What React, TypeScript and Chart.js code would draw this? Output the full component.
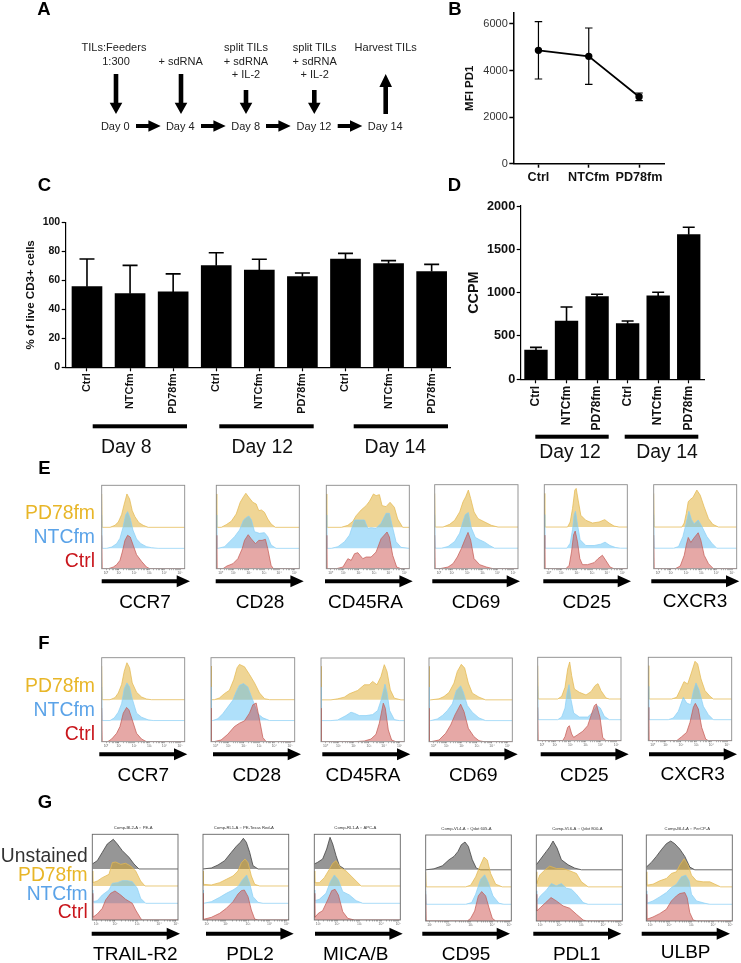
import React, { useEffect, useRef } from "react";
import { Chart, registerables } from "chart.js";
Chart.register(...registerables);

// ---------- Panel B ----------
const bGroups = ["Ctrl", "NTCfm", "PD78fm"];
const bMean = [4869, 4611, 2878];
const bHigh = [6100, 5828, 3036];
const bLow = [3637, 3408, 2706];
const bTicks = [0, 2000, 4000, 6000];
// ---------- Panel C ----------
const cGroups = ["Ctrl", "NTCfm", "PD78fm", "Ctrl", "NTCfm", "PD78fm", "Ctrl", "NTCfm", "PD78fm"];
const cMean = [55.6, 50.8, 52, 70.1, 67.1, 62.5, 74.7, 71.5, 66];
const cHigh = [74.7, 70.3, 64.4, 79, 74.5, 65, 78.6, 73.6, 71];
// ---------- Panel D ----------
const dGroups = ["Ctrl", "NTCfm", "PD78fm", "Ctrl", "NTCfm", "PD78fm"];
const dMean = [338, 673, 954, 642, 962, 1669];
const dHigh = [369, 835, 981, 673, 1004, 1754];

// ---------- Histograms: [fluorescence position, count above the lane baseline] ----------
const E_CCR7_PD78 = [[25,0],[40,6],[50,16],[60,38],[68,70],[76,100],[84,85],[92,50],[100,32],[112,14],[125,6],[140,0]];
const E_CCR7_NTC = [[15,0],[30,4],[45,14],[55,30],[64,62],[72,100],[78,110],[86,90],[94,55],[105,28],[118,14],[135,5],[150,2],[170,0]];
const E_CCR7_CTRL = [[20,0],[35,5],[45,12],[55,25],[62,50],[70,85],[78,100],[86,95],[95,70],[105,42],[120,22],[135,5],[145,0]];
const E_CD28_PD78 = [[15,0],[30,8],[45,18],[60,40],[72,75],[82,92],[89,102],[98,90],[110,75],[120,70],[128,50],[136,52],[145,45],[155,25],[165,10],[178,0]];
const E_CD28_NTC = [[5,0],[25,5],[40,20],[55,35],[70,55],[82,85],[90,92],[98,97],[106,85],[115,50],[130,45],[145,47],[155,35],[165,10],[180,0]];
const E_CD28_CTRL = [[20,0],[32,8],[50,15],[65,30],[78,60],[85,85],[96,102],[105,90],[118,75],[128,85],[138,85],[148,88],[155,60],[165,10],[172,0]];
const E_CD45RA_PD78 = [[45,0],[65,6],[80,18],[90,35],[105,52],[120,65],[130,78],[142,100],[150,95],[160,98],[168,65],[180,62],[192,75],[205,60],[215,25],[230,0]];
const E_CD45RA_NTC = [[15,0],[35,5],[55,20],[70,40],[85,85],[100,85],[115,85],[125,60],[135,62],[150,60],[165,75],[180,105],[190,105],[198,70],[210,20],[225,3],[250,0]];
const E_CD45RA_CTRL = [[30,0],[50,5],[65,30],[75,25],[85,45],[95,48],[110,30],[120,35],[135,35],[150,50],[165,90],[183,110],[190,95],[200,40],[212,5],[225,0]];
const E_CD69_PD78 = [[25,0],[45,8],[60,20],[75,45],[85,75],[93,90],[101,110],[108,85],[118,45],[130,25],[150,15],[170,5],[190,0]];
const E_CD69_NTC = [[20,0],[40,5],[60,20],[75,45],[85,80],[92,100],[101,106],[110,60],[122,32],[135,25],[150,18],[165,8],[180,0]];
const E_CD69_CTRL = [[15,0],[40,5],[55,15],[68,35],[80,60],[90,85],[100,108],[108,85],[118,30],[135,12],[155,5],[175,0]];
const E_CD25_PD78 = [[70,0],[78,15],[85,55],[92,110],[96,115],[102,80],[110,35],[125,20],[145,12],[165,15],[182,22],[195,12],[210,3],[225,0]];
const E_CD25_NTC = [[68,0],[78,15],[85,55],[90,100],[94,110],[100,70],[108,25],[125,8],[150,8],[170,12],[183,18],[198,8],[215,2],[230,0]];
const E_CD25_CTRL = [[65,0],[75,10],[82,50],[88,100],[93,112],[100,80],[107,30],[115,12],[130,12],[150,18],[162,30],[175,40],[185,25],[198,5],[210,0]];
const E_CXCR3_PD78 = [[85,0],[92,12],[98,40],[104,75],[110,82],[118,88],[130,110],[140,95],[152,60],[165,25],[178,8],[195,0]];
const E_CXCR3_NTC = [[60,0],[75,5],[88,35],[98,75],[106,110],[114,85],[122,72],[134,84],[145,65],[160,35],[175,15],[190,0]];
const E_CXCR3_CTRL = [[65,0],[80,8],[92,40],[98,70],[104,93],[112,78],[120,90],[134,107],[142,85],[152,40],[165,15],[180,0]];

const F_CCR7_PD78 = [[25,0],[40,6],[50,20],[60,45],[68,85],[76,110],[84,95],[92,50],[105,22],[120,8],[135,2],[150,0]];
const F_CCR7_NTC = [[25,0],[38,8],[50,25],[60,50],[68,95],[76,112],[84,100],[92,65],[105,22],[120,10],[140,2],[155,0]];
const F_CCR7_CTRL = [[18,0],[30,8],[45,25],[55,45],[65,85],[75,102],[82,95],[92,65],[105,25],[120,8],[135,0]];
const F_CD28_PD78 = [[10,0],[25,5],[40,18],[55,28],[68,60],[78,95],[85,105],[100,98],[115,75],[130,50],[145,20],[160,3],[175,0]];
const F_CD28_NTC = [[5,0],[20,5],[35,20],[50,40],[65,60],[75,85],[85,105],[97,110],[110,100],[125,60],[140,20],[155,8],[175,0]];
const F_CD28_CTRL = [[8,0],[30,5],[50,22],[70,45],[85,55],[100,62],[115,85],[125,110],[135,115],[145,65],[155,12],[165,0]];
const F_CD45RA_PD78 = [[30,0],[50,3],[70,8],[85,18],[110,28],[130,45],[145,45],[155,55],[168,45],[180,70],[190,105],[198,85],[208,30],[220,5],[240,0]];
const F_CD45RA_NTC = [[30,0],[50,2],[75,15],[90,25],[100,22],[115,15],[135,15],[155,18],[170,30],[180,60],[192,109],[198,85],[206,30],[220,3],[235,0]];
const F_CD45RA_CTRL = [[100,0],[130,2],[150,8],[165,22],[175,55],[187,115],[193,100],[202,35],[212,5],[225,0]];
const F_CD69_PD78 = [[5,0],[30,3],[45,10],[60,22],[75,50],[85,85],[97,106],[107,95],[118,50],[130,20],[150,8],[170,0]];
const F_CD69_NTC = [[5,0],[25,5],[40,15],[55,30],[70,50],[82,90],[95,104],[103,85],[115,45],[130,25],[150,8],[170,0]];
const F_CD69_CTRL = [[5,0],[30,5],[50,25],[65,50],[78,80],[95,112],[105,90],[118,40],[135,15],[150,3],[165,0]];
const F_CD25_PD78 = [[60,0],[72,8],[82,35],[90,90],[96,111],[102,70],[110,30],[125,20],[145,12],[160,22],[172,40],[181,46],[190,25],[205,3],[215,0]];
const F_CD25_NTC = [[60,0],[72,8],[82,35],[88,80],[94,105],[100,60],[108,20],[125,8],[150,8],[165,22],[178,42],[188,35],[200,10],[215,0]];
const F_CD25_CTRL = [[75,0],[82,12],[90,40],[95,45],[102,20],[108,10],[120,18],[135,28],[150,45],[160,75],[170,105],[176,110],[187,70],[195,10],[205,0]];
const F_CXCR3_PD78 = [[70,0],[85,5],[97,30],[107,52],[118,45],[128,75],[140,113],[148,105],[158,60],[170,25],[185,8],[195,0]];
const F_CXCR3_NTC = [[60,0],[75,5],[90,25],[105,67],[115,50],[127,45],[135,85],[143,110],[152,90],[165,40],[180,15],[195,0]];
const F_CXCR3_CTRL = [[85,0],[100,12],[115,25],[125,55],[135,100],[141,112],[150,95],[160,40],[172,5],[180,0]];

const G_TRAIL_UNST = [[0,15],[15,25],[30,50],[45,75],[63,89],[75,75],[90,55],[110,35],[125,15],[140,0]];
const G_TRAIL_PD78 = [[0,10],[15,15],[30,25],[50,35],[60,70],[70,72],[85,65],[100,68],[115,60],[130,45],[145,15],[158,0]];
const G_TRAIL_NTC = [[0,5],[15,8],[30,25],[50,40],[60,60],[75,62],[90,68],[105,68],[120,65],[135,45],[145,15],[160,0]];
const G_TRAIL_CTRL = [[0,8],[15,18],[30,35],[40,60],[55,80],[68,87],[85,75],[100,62],[120,50],[130,30],[145,5],[150,0]];
const G_PDL2_UNST = [[0,0],[25,3],[45,12],[65,25],[85,50],[100,68],[112,80],[121,92],[130,80],[140,50],[150,10],[165,0]];
const G_PDL2_PD78 = [[0,5],[25,3],[50,10],[70,20],[90,30],[105,45],[115,70],[126,81],[135,70],[145,30],[155,5],[170,0]];
const G_PDL2_NTC = [[0,0],[25,5],[50,18],[70,30],[90,40],[105,50],[118,70],[131,85],[140,60],[150,20],[165,3],[180,0]];
const G_PDL2_CTRL = [[0,2],[25,8],[50,20],[70,35],[90,55],[105,78],[115,88],[124,90],[135,70],[145,30],[155,3],[165,0]];
const G_MICA_UNST = [[0,15],[10,20],[25,30],[37,60],[47,95],[55,75],[65,40],[75,10],[90,0]];
const G_MICA_PD78 = [[0,10],[15,10],[30,25],[45,50],[55,68],[65,76],[78,55],[95,45],[110,30],[125,15],[140,0]];
const G_MICA_NTC = [[0,8],[15,12],[35,30],[48,65],[60,85],[72,70],[85,35],[105,25],[125,8],[145,0]];
const G_MICA_CTRL = [[0,8],[12,20],[25,28],[40,60],[52,88],[62,92],[72,75],[85,25],[100,5],[120,0]];
const G_CD95_UNST = [[0,0],[25,3],[50,12],[70,30],[85,40],[97,55],[107,75],[118,83],[128,70],[140,30],[152,5],[165,0]];
const G_CD95_PD78 = [[120,0],[135,5],[150,30],[162,60],[175,89],[185,80],[195,40],[210,8],[230,0]];
const G_CD95_NTC = [[120,0],[138,5],[150,30],[165,75],[177,88],[188,65],[202,25],[220,3],[235,0]];
const G_CD95_CTRL = [[125,0],[135,8],[147,30],[158,75],[168,88],[180,75],[190,40],[200,8],[210,0]];
const G_PDL1_UNST = [[0,15],[15,35],[30,55],[40,68],[50,86],[62,65],[75,30],[95,15],[115,5],[135,0]];
const G_PDL1_PD78 = [[0,10],[10,35],[25,50],[40,62],[60,55],[80,55],[100,48],[120,40],[135,15],[155,0]];
const G_PDL1_NTC = [[0,8],[12,25],[30,42],[45,62],[60,55],[75,62],[90,48],[105,45],[120,30],[140,5],[155,0]];
const G_PDL1_CTRL = [[0,30],[12,40],[28,55],[44,70],[60,60],[80,45],[100,38],[120,20],[140,3],[150,0]];
const G_ULBP_UNST = [[0,8],[15,22],[30,40],[45,60],[60,78],[73,86],[85,78],[100,62],[115,40],[130,8],[145,0]];
const G_ULBP_PD78 = [[0,5],[20,8],[40,18],[60,25],[75,40],[90,45],[100,65],[113,84],[125,65],[135,35],[150,18],[170,15],[190,15],[205,8],[222,0]];
const G_ULBP_NTC = [[0,3],[20,10],[40,22],[60,35],[75,50],[90,60],[105,82],[118,87],[128,70],[135,30],[150,10],[175,3],[190,0]];
const G_ULBP_CTRL = [[0,5],[20,12],[40,22],[60,35],[75,60],[90,75],[100,82],[115,85],[122,70],[130,25],[140,3],[150,0]];

// Axis ticks of the histograms
const tickPosEF = [13, 52, 98, 144, 189, 236];
const tickTextEF = ["10⁰", "10¹", "10²", "10³", "10⁴", "10⁵"];
const tickPosG = [12, 68, 135, 200, 251];
const tickTextG = ["10¹", "10²", "10³", "10⁴", "10⁵"];
const minorFractions = [0.3, 0.48, 0.6, 0.7, 0.78, 0.85, 0.9, 0.95];
const laneBasesE = [0, 61, 124];
const laneBasesF = [0, 63, 125];
const laneBasesG = [0, 50, 102, 153];
const titlesG = ["Comp-BL2-A :: PE-A", "Comp-RL1-A :: PE-Texas Red-A", "Comp-RL1-A :: APC-A", "Comp-VL4-A :: Qdot 605-A", "Comp-VL6-A :: Qdot 800-A", "Comp-BL4-A :: PerCP-A"];

// Layout
const FONT = '"Liberation Sans", Arial, sans-serif';
const STYLE: any = {
  ctrl: { fill: "rgba(200,62,58,0.45)", line: "rgba(196,90,84,0.9)" },
  ntc: { fill: "rgba(86,190,245,0.47)", line: "rgba(140,208,245,0.9)" },
  pd78: { fill: "rgba(222,166,30,0.47)", line: "rgba(228,186,84,0.95)" },
  unst: { fill: "rgba(64,64,64,0.55)", line: "rgba(60,60,60,0.95)" },
};
const ORANGE = "#E8B628";
const BLUE = "#5BA3E8";
const RED = "#C9161C";

function box(ax0: number, ay0: number, ax1: number, ay1: number, leftW: number, bottomH: number, padT = 10, padR = 5) {
  const l = Math.floor(ax0 - leftW);
  const t = Math.floor(ay0 - padT);
  const W = Math.ceil(ax1 + padR - l);
  const H = Math.ceil(ay1 + bottomH - t);
  return { l, t, W, H, left: ax0 - l, top: ay0 - t, right: l + W - ax1, bottom: t + H - ay1 };
}

const whiskers = {
  id: "whiskers",
  afterDatasetsDraw(chart: any, _a: any, o: any) {
    const pts = chart.getDatasetMeta(0).data;
    const sy = chart.scales.y;
    const ctx = chart.ctx;
    ctx.save();
    ctx.strokeStyle = "#000";
    ctx.lineWidth = o.width;
    pts.forEach((p: any, i: number) => {
      const hi = sy.getPixelForValue(o.high[i]);
      const lo = o.low ? sy.getPixelForValue(o.low[i]) : sy.getPixelForValue(o.mean[i]);
      ctx.beginPath();
      ctx.moveTo(p.x, lo);
      ctx.lineTo(p.x, hi);
      ctx.moveTo(p.x - o.cap / 2, hi);
      ctx.lineTo(p.x + o.cap / 2, hi);
      if (o.low) {
        ctx.moveTo(p.x - o.cap / 2, lo);
        ctx.lineTo(p.x + o.cap / 2, lo);
      }
      ctx.stroke();
    });
    ctx.restore();
  },
};

const frame = {
  id: "frame",
  afterDraw(chart: any, _a: any, o: any) {
    const { left, top, width, height } = chart.chartArea;
    const ctx = chart.ctx;
    ctx.save();
    ctx.strokeStyle = o.color;
    ctx.lineWidth = 0.9;
    ctx.strokeRect(left, top, width, height);
    if (o.title) {
      ctx.font = `4.2px ${FONT}`;
      ctx.fillStyle = "#333";
      ctx.textAlign = "center";
      ctx.fillText(o.title, left + width / 2 - 2, top - 5);
    }
    ctx.restore();
  },
};

function axisConfig(b: any, xFont: any, yFont: any, title: any, yColor: string, tickPad: number, rotate: boolean, lw: number) {
  return {
    x: {
      offset: true,
      afterFit: (s: any) => { s.height = b.bottom; },
      border: { display: true, color: "#000", width: lw },
      grid: { display: true, offset: false, drawOnChartArea: false, drawTicks: true, tickLength: 4, tickWidth: lw, tickColor: "#000" },
      ticks: {
        autoSkip: false, color: "#111", font: xFont, padding: tickPad,
        maxRotation: rotate ? 90 : 0, minRotation: rotate ? 90 : 0,
      },
    },
    y: {
      afterFit: (s: any) => { s.width = b.left; },
      border: { display: true, color: "#000", width: lw },
      grid: { display: true, drawOnChartArea: false, drawTicks: true, tickLength: 4, tickWidth: lw, tickColor: "#000" },
      ticks: { color: yColor, font: yFont, padding: 1.5, includeBounds: false, callback: (v: number) => String(v) },
      title,
    },
  };
}

const basePlugins = { legend: { display: false }, tooltip: { enabled: false } };

function makeB() {
  const b = box(513.3, 12.7, 665, 163.7, 60, 24);
  const scales: any = axisConfig(b, { family: FONT, size: 12.6, weight: "bold" }, { family: FONT, size: 11 },
    { display: true, text: "MFI PD1", color: "#111", font: { family: FONT, size: 11.5, weight: "bold" }, padding: { top: 10, bottom: 0 } }, "#333", 2.5, false, 1.5);
  scales.y.min = 0; scales.y.max = 6485;
  scales.y.afterBuildTicks = (s: any) => { s.ticks = bTicks.map((v) => ({ value: v })); };
  return {
    b,
    config: {
      type: "line",
      data: { labels: bGroups, datasets: [{ data: bMean, borderColor: "#000", backgroundColor: "#000", borderWidth: 1.8, pointRadius: 2.8, tension: 0 }] },
      options: { responsive: false, animation: false, layout: { padding: { top: b.top, right: b.right, left: 0, bottom: 0 } }, scales,
        plugins: { ...basePlugins, whiskers: { high: bHigh, low: bLow, cap: 7.5, width: 1.2 } } },
      plugins: [whiskers],
    },
  };
}

function makeC() {
  const b = box(65.7, 222.3, 450, 367.3, 60, 60);
  const scales: any = axisConfig(b, { family: FONT, size: 10.9, weight: "bold" }, { family: FONT, size: 10.5, weight: "bold" },
    { display: true, text: "% of live CD3+ cells", color: "#111", font: { family: FONT, size: 11.6, weight: "bold" }, padding: { top: 18.7, bottom: 0 } }, "#111", 2, true, 1.2);
  scales.y.min = 0; scales.y.max = 100; scales.y.ticks.stepSize = 20;
  scales.x.type = "linear";
  scales.x.offset = false;
  scales.x.min = -0.494; scales.x.max = 8.426;
  scales.x.afterBuildTicks = (s: any) => { s.ticks = cGroups.map((_g, i) => ({ value: i })); };
  scales.x.ticks.callback = (v: number) => cGroups[v];
  return {
    b,
    config: {
      type: "bar",
      data: { datasets: [{ data: cMean.map((v, i) => ({ x: i, y: v })), backgroundColor: "#000", barThickness: 30 }] },
      options: { responsive: false, animation: false, layout: { padding: { top: b.top, right: b.right, left: 0, bottom: 0 } }, scales,
        plugins: { ...basePlugins, whiskers: { high: cHigh, mean: cMean, cap: 15, width: 1.6 } } },
      plugins: [whiskers],
    },
  };
}

function makeD() {
  const b = box(520.7, 206, 704, 379.3, 60, 60);
  const scales: any = axisConfig(b, { family: FONT, size: 12, weight: "bold" }, { family: FONT, size: 12.7, weight: "bold" },
    { display: true, text: "CCPM", color: "#111", font: { family: FONT, size: 14.4, weight: "bold" }, padding: { top: 5.7, bottom: 0 } }, "#111", 2.5, true, 1.2);
  scales.y.min = 0; scales.y.max = 2000; scales.y.ticks.stepSize = 500;
  return {
    b,
    config: {
      type: "bar",
      data: { labels: dGroups, datasets: [{ data: dMean, backgroundColor: "#000", barThickness: 22.7 }] },
      options: { responsive: false, animation: false, layout: { padding: { top: b.top, right: b.right, left: 0, bottom: 0 } }, scales,
        plugins: { ...basePlugins, whiskers: { high: dHigh, mean: dMean, cap: 12, width: 1.6 } } },
      plugins: [whiskers],
    },
  };
}

function curve(points: number[][], base: number, W: number, spike: number) {
  const out: any[] = [];
  let pts = points;
  if (spike > 0) {
    out.push({ x: 0, y: base + spike });
    if (pts[0][0] === 0) { out.push({ x: 1.5, y: base + pts[0][1] }); pts = pts.slice(1); }
    else out.push({ x: 1.5, y: base });
  } else if (pts[0][0] > 0) out.push({ x: 0, y: base });
  pts.forEach((p) => out.push({ x: p[0], y: base + p[1] }));
  if (pts[pts.length - 1][0] < W) out.push({ x: W, y: base });
  return out;
}

function makeHist(rect: number[], lanes: any[][], bases: number[], tickPos: number[], tickText: string[], span: number, title?: string, frameColor = "#8b8b8b") {
  const [x0, y0, x1, y1] = rect;
  const b = box(x0, y0, x1, y1, 6, 9, 9, 6);
  const datasets = lanes.map(([points, kind, spike], i) => ({
    data: curve(points, bases[i], span, spike),
    borderColor: STYLE[kind].line,
    backgroundColor: STYLE[kind].fill,
    borderWidth: 0.8,
    pointRadius: 0,
    tension: 0,
    fill: { value: bases[i] },
  }));
  const allTicks: number[] = [...tickPos];
  for (let i = 0; i + 1 < tickPos.length; i++) {
    minorFractions.forEach((f) => allTicks.push(tickPos[i] + f * (tickPos[i + 1] - tickPos[i])));
  }
  allTicks.sort((p, q) => p - q);
  return {
    b,
    config: {
      type: "line",
      data: { datasets },
      options: {
        responsive: false, animation: false, parsing: false,
        layout: { padding: { left: b.left, top: b.top, right: b.right, bottom: 0 } },
        scales: {
          x: {
            type: "linear", min: 0, max: span,
            afterBuildTicks: (s: any) => { s.ticks = allTicks.map((v) => ({ value: v })); },
            afterFit: (s: any) => { s.height = b.bottom; },
            border: { display: false },
            grid: { display: true, drawOnChartArea: false, drawTicks: true, tickLength: 1.5, tickWidth: 0.5, tickColor: "#666" },
            ticks: { autoSkip: false, maxRotation: 0, minRotation: 0, padding: 0.5, color: "#666", font: { family: FONT, size: 3.4 },
              callback: (v: number) => { const k = tickPos.indexOf(v); return k >= 0 ? tickText[k] : ""; } },
          },
          y: { display: false, min: 0, max: span },
        },
        plugins: { ...basePlugins, filler: { propagate: false }, frame: { color: frameColor, title } },
      },
      plugins: [frame],
    },
  };
}

const efLanes = (c: any, n: any, p: any) => [[c, "ctrl", 100], [n, "ntc", 100], [p, "pd78", 100]];
const gLanes = (c: any, n: any, p: any, u: any) => [[c, "ctrl", 80], [n, "ntc", 40], [p, "pd78", 45], [u, "unst", 0]];

const histograms = [
  makeHist([101.7, 485.3, 184.7, 568.7], efLanes(E_CCR7_CTRL, E_CCR7_NTC, E_CCR7_PD78), laneBasesE, tickPosEF, tickTextEF, 250),
  makeHist([216.3, 485.3, 299.3, 568.7], efLanes(E_CD28_CTRL, E_CD28_NTC, E_CD28_PD78), laneBasesE, tickPosEF, tickTextEF, 250),
  makeHist([326.3, 485.3, 409.3, 568.7], efLanes(E_CD45RA_CTRL, E_CD45RA_NTC, E_CD45RA_PD78), laneBasesE, tickPosEF, tickTextEF, 250),
  makeHist([434.7, 484.7, 518, 568.7], efLanes(E_CD69_CTRL, E_CD69_NTC, E_CD69_PD78), laneBasesE, tickPosEF, tickTextEF, 250),
  makeHist([544.3, 484.7, 627.3, 568.7], efLanes(E_CD25_CTRL, E_CD25_NTC, E_CD25_PD78), laneBasesE, tickPosEF, tickTextEF, 250),
  makeHist([653.7, 484.7, 736.7, 568.7], efLanes(E_CXCR3_CTRL, E_CXCR3_NTC, E_CXCR3_PD78), laneBasesE, tickPosEF, tickTextEF, 250),

  makeHist([101.7, 657.7, 184.7, 741.7], efLanes(F_CCR7_CTRL, F_CCR7_NTC, F_CCR7_PD78), laneBasesF, tickPosEF, tickTextEF, 250),
  makeHist([211, 657.7, 294.7, 741.7], efLanes(F_CD28_CTRL, F_CD28_NTC, F_CD28_PD78), laneBasesF, tickPosEF, tickTextEF, 250),
  makeHist([321, 658, 404.3, 741.7], efLanes(F_CD45RA_CTRL, F_CD45RA_NTC, F_CD45RA_PD78), laneBasesF, tickPosEF, tickTextEF, 250),
  makeHist([429, 658, 512.3, 741.7], efLanes(F_CD69_CTRL, F_CD69_NTC, F_CD69_PD78), laneBasesF, tickPosEF, tickTextEF, 250),
  makeHist([537.7, 657.3, 621, 740.7], efLanes(F_CD25_CTRL, F_CD25_NTC, F_CD25_PD78), laneBasesF, tickPosEF, tickTextEF, 250),
  makeHist([648.3, 657.3, 731.7, 740.7], efLanes(F_CXCR3_CTRL, F_CXCR3_NTC, F_CXCR3_PD78), laneBasesF, tickPosEF, tickTextEF, 250),

  makeHist([92.3, 834.3, 178, 920], gLanes(G_TRAIL_CTRL, G_TRAIL_NTC, G_TRAIL_PD78, G_TRAIL_UNST), laneBasesG, tickPosG, tickTextG, 257, titlesG[0], "#666"),
  makeHist([203, 834.3, 288.7, 920], gLanes(G_PDL2_CTRL, G_PDL2_NTC, G_PDL2_PD78, G_PDL2_UNST), laneBasesG, tickPosG, tickTextG, 257, titlesG[1], "#666"),
  makeHist([314.3, 834.3, 400.3, 920], gLanes(G_MICA_CTRL, G_MICA_NTC, G_MICA_PD78, G_MICA_UNST), laneBasesG, tickPosG, tickTextG, 257, titlesG[2], "#666"),
  makeHist([425.7, 835, 511.3, 921], gLanes(G_CD95_CTRL, G_CD95_NTC, G_CD95_PD78, G_CD95_UNST), laneBasesG, tickPosG, tickTextG, 257, titlesG[3], "#666"),
  makeHist([536.3, 835, 622.3, 921], gLanes(G_PDL1_CTRL, G_PDL1_NTC, G_PDL1_PD78, G_PDL1_UNST), laneBasesG, tickPosG, tickTextG, 257, titlesG[4], "#666"),
  makeHist([646.3, 835, 732.3, 921], gLanes(G_ULBP_CTRL, G_ULBP_NTC, G_ULBP_PD78, G_ULBP_UNST), laneBasesG, tickPosG, tickTextG, 257, titlesG[5], "#666"),
];

function ChartBox({ spec }: { spec: any }) {
  const ref = useRef<HTMLCanvasElement>(null);
  useEffect(() => {
    const c = new Chart(ref.current as any, spec.config);
    return () => c.destroy();
  }, [spec]);
  const { l, t, W, H } = spec.b;
  return <canvas ref={ref} width={W} height={H} style={{ position: "absolute", left: l, top: t, width: W, height: H }} />;
}

function T({ x, y, s, c = "#111", w = 400, a = "center", children }: any) {
  const shift = a === "center" ? "translateX(-50%)" : a === "right" ? "translateX(-100%)" : "none";
  return (
    <div style={{ position: "absolute", left: x, top: y - 0.8465 * s, fontSize: s, lineHeight: 1, color: c, fontWeight: w, transform: shift, whiteSpace: "nowrap", fontFamily: FONT }}>
      {children}
    </div>
  );
}

function arrowH(x0: number, x1: number, y: number, shaft: number, headW: number, headL: number) {
  const h = x1 - headL;
  return `${x0},${y - shaft / 2} ${h},${y - shaft / 2} ${h},${y - headW / 2} ${x1},${y} ${h},${y + headW / 2} ${h},${y + shaft / 2} ${x0},${y + shaft / 2}`;
}
function arrowV(x: number, y0: number, tip: number, shaft: number, headW: number, headL: number) {
  const dir = tip > y0 ? 1 : -1;
  const h = tip - dir * headL;
  return `${x - shaft / 2},${y0} ${x - shaft / 2},${h} ${x - headW / 2},${h} ${x},${tip} ${x + headW / 2},${h} ${x + shaft / 2},${h} ${x + shaft / 2},${y0} `;
}

const axisArrows = [
  [101.7, 190, 581.3], [215.7, 303.7, 581.3], [325, 412.7, 581.3], [432.3, 520, 581.3], [543.3, 631, 581.3], [651.3, 739.3, 581.3],
  [99.3, 187.3, 754.3], [213, 301, 754.3], [322.3, 410.3, 754.3], [429.7, 517.7, 754.3], [540.7, 628.7, 754.3], [649, 737, 754.3],
  [91.7, 180, 933.7], [206, 293.7, 933.7], [315, 402.7, 933.7], [422.3, 510, 933.7], [533.3, 621.3, 933.7], [641.7, 730, 933.7],
];
const flowArrows = [[136, 160.7], [201, 225.7], [266, 290.7], [337.7, 362.3]];
const dayBars = [
  [92.7, 187, 426.3], [219.3, 313.7, 426.3], [353.7, 448, 426.3],
  [535.3, 608.7, 436.7], [624.7, 698.3, 436.7],
];

const specB = makeB();
const specC = makeC();
const specD = makeD();

function LaneLabels({ rows, right, s }: any) {
  return rows.map(([txt, y, c]: any) => <T key={txt} x={right} y={y} s={s} c={c} a="right">{txt}</T>);
}

export default function App() {
  return (
    <div style={{ position: "absolute", left: 0, top: 0, width: 741, height: 963, overflow: "hidden", background: "#fff", fontFamily: FONT }}>
      <ChartBox spec={specB} />
      <ChartBox spec={specC} />
      <ChartBox spec={specD} />
      {histograms.map((h, i) => <ChartBox key={i} spec={h} />)}

      <svg width={741} height={963} style={{ position: "absolute", left: 0, top: 0, pointerEvents: "none" }}>
        <polygon points={arrowV(116, 74, 114, 4.6, 12.6, 11.3)} fill="#000" />
        <polygon points={arrowV(181, 74, 114, 4.6, 12.6, 11.3)} fill="#000" />
        <polygon points={arrowV(246, 90, 114, 4.6, 12.6, 11.3)} fill="#000" />
        <polygon points={arrowV(314.3, 90, 114, 4.6, 12.6, 11.3)} fill="#000" />
        <polygon points={arrowV(385.7, 114, 74, 4.6, 12.6, 13)} fill="#000" />
        {flowArrows.map(([a, b], i) => <polygon key={i} points={arrowH(a, b, 126, 4, 11.3, 12.3)} fill="#000" />)}
        {axisArrows.map(([a, b, y], i) => <polygon key={i} points={arrowH(a, b, y, 4, 12, 13.3)} fill="#000" />)}
        {dayBars.map(([a, b, y], i) => <rect key={i} x={a} y={y - 2} width={b - a} height={4} fill="#000" />)}
      </svg>

      <T x={37.3} y={16} s={18.5} w={700} a="left" c="#000">A</T>
      <T x={448.3} y={15.7} s={18.5} w={700} a="left" c="#000">B</T>
      <T x={37.7} y={191.7} s={18.5} w={700} a="left" c="#000">C</T>
      <T x={447.7} y={191.7} s={18.5} w={700} a="left" c="#000">D</T>
      <T x={38.3} y={475} s={18.5} w={700} a="left" c="#000">E</T>
      <T x={38.3} y={650} s={18.5} w={700} a="left" c="#000">F</T>
      <T x={37.7} y={808.3} s={18.5} w={700} a="left" c="#000">G</T>

      <T x={114} y={51.7} s={11} c="#222">TILs:Feeders</T>
      <T x={116} y={65.3} s={11} c="#222">1:300</T>
      <T x={180.7} y={65.3} s={11} c="#222">+ sdRNA</T>
      <T x={246} y={51.7} s={11} c="#222">split TILs</T>
      <T x={246} y={65.3} s={11} c="#222">+ sdRNA</T>
      <T x={246} y={78.7} s={11} c="#222">+ IL-2</T>
      <T x={314.7} y={51.7} s={11} c="#222">split TILs</T>
      <T x={314.7} y={65.3} s={11} c="#222">+ sdRNA</T>
      <T x={314.7} y={78.7} s={11} c="#222">+ IL-2</T>
      <T x={385.7} y={51.7} s={11} c="#222">Harvest TILs</T>
      <T x={115.3} y={130} s={11} c="#222">Day 0</T>
      <T x={180.3} y={130} s={11} c="#222">Day 4</T>
      <T x={245.7} y={130} s={11} c="#222">Day 8</T>
      <T x={314} y={130} s={11} c="#222">Day 12</T>
      <T x={385.3} y={130} s={11} c="#222">Day 14</T>

      <T x={126.3} y={453.3} s={19.4}>Day 8</T>
      <T x={262.3} y={453.3} s={19.4}>Day 12</T>
      <T x={395.3} y={453.3} s={19.4}>Day 14</T>
      <T x={570} y={458.3} s={19.4}>Day 12</T>
      <T x={667} y={458.3} s={19.4}>Day 14</T>

      <LaneLabels right={95} s={19.4} rows={[["PD78fm", 519.3, ORANGE], ["NTCfm", 543.3, BLUE], ["Ctrl", 567, RED]]} />
      <LaneLabels right={95} s={19.4} rows={[["PD78fm", 692.3, ORANGE], ["NTCfm", 716, BLUE], ["Ctrl", 740, RED]]} />
      <LaneLabels right={87.7} s={19.3} rows={[["Unstained", 862.7, "#333"], ["PD78fm", 881, ORANGE], ["NTCfm", 900, BLUE], ["Ctrl", 918, RED]]} />

      <T x={145} y={607.7} s={19} c="#000">CCR7</T>
      <T x={260} y={607.7} s={19} c="#000">CD28</T>
      <T x={365.5} y={607.7} s={19} c="#000">CD45RA</T>
      <T x={476} y={607.7} s={19} c="#000">CD69</T>
      <T x={586.7} y={607.7} s={19} c="#000">CD25</T>
      <T x={695} y={606.7} s={19} c="#000">CXCR3</T>

      <T x={143.3} y={780.7} s={19} c="#000">CCR7</T>
      <T x={256.7} y={780.7} s={19} c="#000">CD28</T>
      <T x={363} y={780.7} s={19} c="#000">CD45RA</T>
      <T x={473.3} y={780.7} s={19} c="#000">CD69</T>
      <T x={584.3} y={780.7} s={19} c="#000">CD25</T>
      <T x={692.7} y={780} s={19} c="#000">CXCR3</T>

      <T x={135.3} y={960} s={19} c="#000">TRAIL-R2</T>
      <T x={250} y={960} s={19} c="#000">PDL2</T>
      <T x={355.7} y={960} s={19} c="#000">MICA/B</T>
      <T x={466} y={960} s={19} c="#000">CD95</T>
      <T x={576.7} y={960} s={19} c="#000">PDL1</T>
      <T x={685.7} y={958} s={19} c="#000">ULBP</T>
    </div>
  );
}
